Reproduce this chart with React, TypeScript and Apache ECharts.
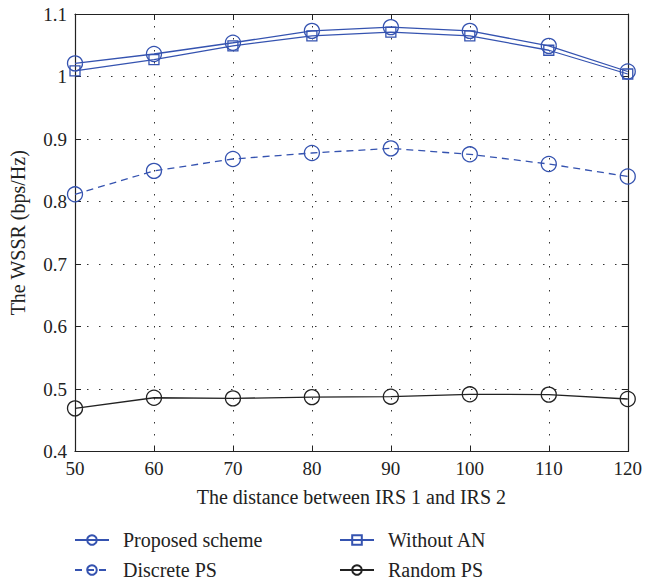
import React, { useEffect, useRef } from "react";
import * as echarts from "echarts";

const distances = [50, 60, 70, 80, 90, 100, 110, 120];
const proposed = [1.021, 1.036, 1.054, 1.073, 1.079, 1.073, 1.049, 1.008];
const withoutAN = [1.009, 1.027, 1.049, 1.065, 1.071, 1.065, 1.042, 1.004];
const discrete = [0.8115, 0.849, 0.868, 0.8776, 0.885, 0.8755, 0.86, 0.84];
const randomPS = [0.469, 0.486, 0.485, 0.487, 0.4877, 0.4915, 0.491, 0.484];

const BLUE = "#3553b0";
const BLACK = "#222";
const FONT = "Liberation Serif";

function pairs(ys: number[]) {
  return distances.map((x, i) => [x, ys[i]]);
}

export default function App() {
  const ref = useRef<HTMLDivElement>(null);
  useEffect(() => {
    document.body.style.margin = "0";
    if (!ref.current) return;
    const chart = echarts.init(ref.current, null, { renderer: "svg" });
    const gridLine = { show: true, lineStyle: { color: "#333", type: [1.5, 10.5], width: 1 } };
    const axisLine = { show: true, lineStyle: { color: "#222", width: 1.2 } };
    const tick = { show: true, inside: true, length: 6, lineStyle: { color: "#222" } };
    const mk = (name: string, data: number[], color: string, symbol: string, size: number, dashed: boolean) => ({
      name,
      type: "line",
      data: pairs(data),
      symbol,
      symbolSize: size,
      showSymbol: true,
      lineStyle: { color, width: 1.3, type: dashed ? [7, 5] : "solid" },
      itemStyle: { color: "none", borderColor: color, borderWidth: 1.3 },
      emphasis: { disabled: true },
    });
    const legendBase = {
      top: 530,
      orient: "vertical",
      padding: 0,
      itemWidth: 34,
      itemHeight: 12,
      itemGap: 10,
      textStyle: { fontFamily: FONT, fontSize: 20, color: "#222", padding: [0, 0, 0, 9] },
    };
    chart.setOption({
      animation: false,
      backgroundColor: "#fff",
      textStyle: { fontFamily: FONT },
      grid: { left: 74, right: 15, top: 14, bottom: 130.5 },
      xAxis: [
        {
          type: "value",
          min: 50,
          max: 120,
          interval: 10,
          name: "The distance between IRS 1 and IRS 2",
          nameLocation: "middle",
          nameGap: 35,
          nameTextStyle: { fontFamily: FONT, fontSize: 20, color: "#222" },
          axisLine,
          axisTick: tick,
          axisLabel: { fontFamily: FONT, fontSize: 19, color: "#222", margin: 7 },
          splitLine: gridLine,
        },
        {
          type: "value",
          position: "top",
          min: 50,
          max: 120,
          interval: 10,
          axisLine,
          axisTick: tick,
          axisLabel: { show: false },
          splitLine: { show: false },
        },
      ],
      yAxis: [
        {
          type: "value",
          min: 0.4,
          max: 1.1,
          interval: 0.1,
          name: "The WSSR (bps/Hz)",
          nameLocation: "middle",
          nameGap: 47,
          nameTextStyle: { fontFamily: FONT, fontSize: 20, color: "#222" },
          axisLine,
          axisTick: tick,
          axisLabel: {
            fontFamily: FONT,
            fontSize: 19,
            color: "#222",
            margin: 8,
            formatter: (v: number) => String(Math.round(v * 10) / 10),
          },
          splitLine: gridLine,
        },
        {
          type: "value",
          position: "right",
          min: 0.4,
          max: 1.1,
          interval: 0.1,
          axisLine,
          axisTick: tick,
          axisLabel: { show: false },
          splitLine: { show: false },
        },
      ],
      legend: [
        { ...legendBase, left: 74, data: ["Proposed scheme", "Discrete PS"] },
        { ...legendBase, left: 339, data: ["Without AN", "Random PS"] },
      ],
      series: [
        mk("Proposed scheme", proposed, BLUE, "circle", 15, false),
        mk("Without AN", withoutAN, BLUE, "rect", 10, false),
        mk("Discrete PS", discrete, BLUE, "circle", 15, true),
        mk("Random PS", randomPS, BLACK, "circle", 15, false),
      ],
    });
    return () => chart.dispose();
  }, []);
  return <div ref={ref} style={{ width: 645, height: 582 }} />;
}
